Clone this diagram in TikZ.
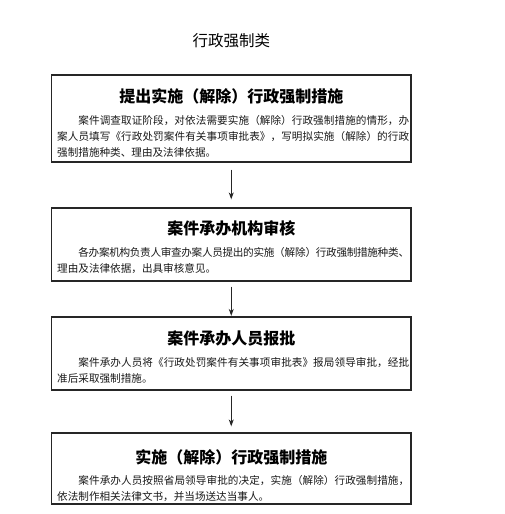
\documentclass[tikz,border=0pt]{standalone}
\usepackage{fontspec}
\setmainfont{Noto Sans CJK SC}
\usetikzlibrary{arrows.meta}
\XeTeXlinebreaklocale "zh"
\XeTeXlinebreakskip=0pt plus 1pt minus 0.5pt
\tikzset{
  flowbox/.style={draw=black!85, line width=1.3pt, minimum width=359.5pt, inner sep=0pt, fill=white},
  maintitle/.style={font=\fontsize{15.5}{18}\selectfont, inner sep=0pt, anchor=base},
  boxtitle/.style={font=\fontsize{16}{18}\selectfont\bfseries, inner sep=0pt, anchor=base},
  boxbody/.style={font=\fontsize{10.6}{16}\selectfont, text width=352pt, align=justify, inner sep=0pt, anchor=base west, text=black!90},
  flowarrow/.style={draw=black!85, line width=1pt, -{Stealth[length=7pt,width=5pt]}}
}
\begin{document}
\begin{tikzpicture}[x=1pt,y=-1pt]
\useasboundingbox (0,0) rectangle (504,514);
\fill[white] (0,0) rectangle (504,514);

\node[maintitle] (ttl) at (231.25,46) {行政强制类};

\node[flowbox, minimum height=87pt] (b1) at (231.25,118.5) {};
\node[flowbox, minimum height=73pt] (b2) at (231.25,244.5) {};
\node[flowbox, minimum height=73pt] (b3) at (231.25,353.5) {};
\node[flowbox, minimum height=71pt] (b4) at (231.25,468.5) {};

\node[boxtitle] (t1) at (231.25,102) {提出实施（解除）行政强制措施};
\node[boxbody] (p1) at (57,124) {\hspace*{2em}案件调查取证阶段，对依法需要实施（解除）行政强制措施的情形，办\linebreak 案人员填写《行政处罚案件有关事项审批表》，写明拟实施（解除）的行政\linebreak 强制措施种类、理由及法律依据。};

\node[boxtitle] (t2) at (231.25,234) {案件承办机构审核};
\node[boxbody] (p2) at (57,256) {\hspace*{2em}各办案机构负责人审查办案人员提出的实施（解除）行政强制措施种类、\linebreak 理由及法律依据，出具审核意见。};

\node[boxtitle] (t3) at (231.25,344) {案件承办人员报批};
\node[boxbody] (p3) at (57,366) {\hspace*{2em}案件承办人员将《行政处罚案件有关事项审批表》报局领导审批，经批\linebreak 准后采取强制措施。};

\node[boxtitle] (t4) at (231.25,463) {实施（解除）行政强制措施};
\node[boxbody] (p4) at (57,484) {\hspace*{2em}案件承办人员按照省局领导审批的决定，实施（解除）行政强制措施，\linebreak 依法制作相关法律文书，并当场送达当事人。};

\draw[flowarrow] ([yshift=-7pt]b1.south) -- ([yshift=8pt]b2.north);
\draw[flowarrow] ([yshift=-5pt]b2.south) -- ([yshift=0.5pt]b3.north);
\draw[flowarrow] ([yshift=-5pt]b3.south) -- ([yshift=6pt]b4.north);
\end{tikzpicture}
\end{document}
